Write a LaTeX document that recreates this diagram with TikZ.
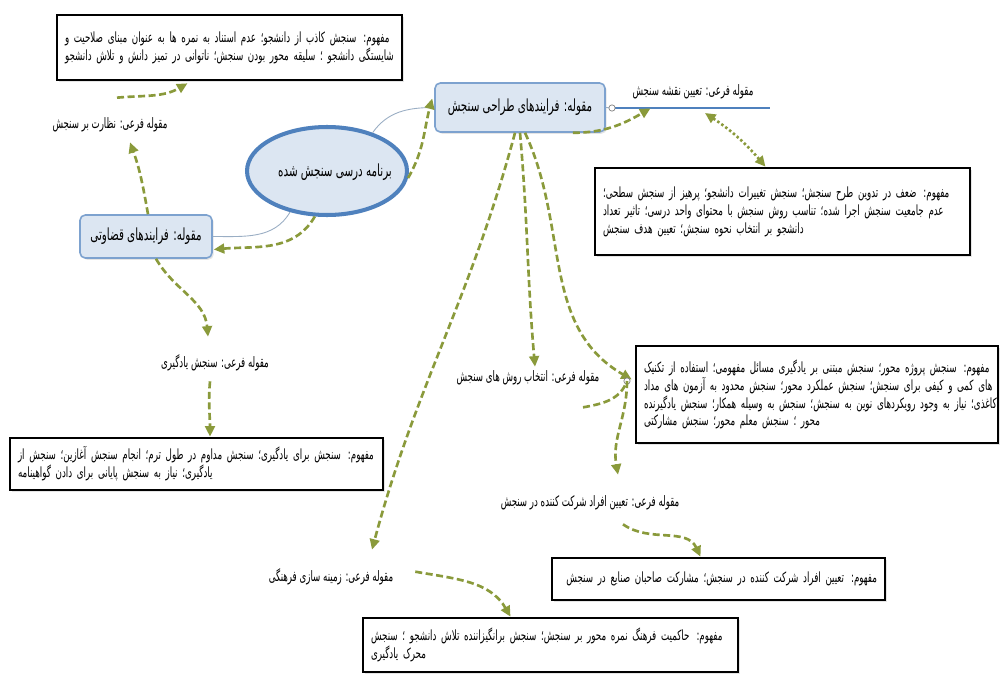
\documentclass[tikz,border=0pt]{standalone}
\usepackage{fontspec}
\newfontfamily\fabody[Script=Arabic,FakeStretch=0.62]{DejaVu Sans}
\newfontfamily\fasub[Script=Arabic,FakeStretch=0.6]{DejaVu Sans}
\newfontfamily\facat[Script=Arabic,FakeStretch=0.62]{DejaVu Sans}
\TeXXeTstate=1
\usetikzlibrary{arrows.meta,calc,shapes.geometric,shadows}
\definecolor{flowgreen}{HTML}{8A9A3B}
\definecolor{coreline}{HTML}{4F81BD}
\definecolor{catfill}{HTML}{DCE6F2}
\definecolor{catline}{HTML}{7DA2CF}
\definecolor{tiegrey}{HTML}{9AAEC4}
\newcommand\bodyfont{\fabody\fontsize{8}{10.2}\selectfont}
\newcommand\subfont{\fasub\fontsize{8.2}{9}\selectfont}
\newcommand\catfont{\facat\fontsize{9.5}{10}\selectfont}
\newcommand\jline[1]{\makebox[\linewidth][s]{\beginR#1\endR}}
\newcommand\lline[1]{\beginR#1\endR\hfill}
\newcommand\rl[1]{\beginR#1\endR}
\begin{document}
\begin{tikzpicture}[x=0.02cm,y=0.02cm,
  concept/.style={draw,line width=1.5pt,fill=white,inner xsep=0.16cm,inner ysep=0pt,align=left,font=\bodyfont,
    drop shadow={shadow xshift=1.2pt,shadow yshift=-1.2pt,opacity=0.2}},
  subcat/.style={font=\subfont,inner sep=1pt},
  maincat/.style={draw=catline,line width=0.9pt,fill=catfill,rounded corners=3pt,font=\catfont,
    drop shadow={shadow xshift=1pt,shadow yshift=-1pt,opacity=0.2}},
  flow/.style={draw=flowgreen,line width=1.5pt,dash pattern=on 4pt off 2pt,-{Triangle[length=6pt,width=5.5pt]}},
  tie/.style={draw=tiegrey,line width=0.5pt},
  underline/.style={draw=coreline,line width=1.2pt},
  knot/.style={draw=gray,fill=white,line width=0.4pt}]
\fill[white] (0,0) rectangle (1000,-686);
\useasboundingbox (0,0) rectangle (1000,-686);

\node[concept,text width=6.58cm,minimum height=1.3cm] (c-nazarat) at (229.5,-47.5)
  {\jline{مفهوم: سنجش کاذب از دانشجو؛ عدم استناد به نمره ها به عنوان مبنای صلاحیت و}\\
   \jline{شایستگی دانشجو ؛ سلیقه محور بودن سنجش؛ ناتوانی در تمیز دانش و تلاش دانشجو}};
\node[subcat] (s-nazarat) at (110,-125) {\rl{مقوله فرعی: نظارت بر سنجش}};
\node[ellipse,draw=coreline,line width=2.3pt,fill=catfill,minimum width=3.2cm,minimum height=1.76cm] (core) at (327,-171) {};
\node[font=\catfont] (core-text) at (335,-172) {\rl{برنامه درسی سنجش شده}};
\node[maincat,minimum width=2.64cm,minimum height=0.86cm] (m-qazavati) at (146,-236.5) {\rl{مقوله: فرایندهای قضاوتی}};
\node[maincat,minimum width=3.4cm,minimum height=0.98cm] (m-tarahi) at (520,-107.5) {\rl{مقوله: فرایندهای طراحی سنجش}};
\node[subcat] (s-naqshe) at (693,-92) {\rl{مقوله فرعی: تعیین نقشه سنجش}};
\coordinate (naqshe-dot) at (612,-108);
\coordinate (naqshe-end) at (770,-108);
\node[concept,text width=7.18cm,minimum height=1.74cm] (c-naqshe) at (782.5,-211.5)
  {\jline{مفهوم: ضعف در تدوین طرح سنجش؛ سنجش تغییرات دانشجو؛ پرهیز از سنجش سطحی؛}\\
   \jline{عدم جامعیت سنجش اجرا شده؛ تناسب روش سنجش با محتوای واحد درسی؛ تاثیر تعداد}\\
   \lline{دانشجو بر انتخاب نحوه سنجش؛ تعیین هدف سنجش}};
\node[subcat] (s-ravesh) at (528,-378) {\rl{مقوله فرعی: انتخاب روش های سنجش}};
\coordinate (ravesh-dot) at (627,-381);
\node[concept,text width=6.92cm,minimum height=1.94cm] (c-ravesh) at (817,-394.5)
  {\jline{مفهوم: سنجش پروژه محور؛ سنجش مبتنی بر یادگیری مسائل مفهومی؛ استفاده از تکنیک}\\
   \jline{های کمی و کیفی برای سنجش؛ سنجش عملکرد محور؛ سنجش محدود به آزمون های مداد}\\
   \jline{کاغذی؛ نیاز به وجود رویکردهای نوین به سنجش؛ سنجش به وسیله همکار؛ سنجش یادگیرنده}\\
   \lline{محور ؛ سنجش معلم محور؛ سنجش مشارکتی}};
\node[subcat] (s-yadgiri) at (215,-363) {\rl{مقوله فرعی: سنجش یادگیری}};
\node[concept,text width=7.14cm,minimum height=1.04cm] (c-yadgiri) at (196.5,-464)
  {\jline{مفهوم: سنجش برای یادگیری؛ سنجش مداوم در طول ترم؛ انجام سنجش آغازین؛ سنجش از}\\
   \lline{یادگیری؛ نیاز به سنجش پایانی برای دادن گواهینامه}};
\node[subcat] (s-afrad) at (590,-503) {\rl{مقوله فرعی: تعیین افراد شرکت کننده در سنجش}};
\node[concept,text width=6.34cm,minimum height=0.84cm] (c-afrad) at (718.5,-579)
  {\hfill\rl{مفهوم: تعیین افراد شرکت کننده در سنجش؛ مشارکت صاحبان صنایع در سنجش}};
\node[subcat] (s-zamine) at (331,-577) {\rl{مقوله فرعی: زمینه سازی فرهنگی}};
\node[concept,text width=7.18cm,minimum height=1.08cm] (c-zamine) at (550.5,-645)
  {\jline{مفهوم: حاکمیت فرهنگ نمره محور بر سنجش؛ سنجش برانگیزاننده تلاش دانشجو ؛ سنجش}\\
   \lline{محرک یادگیری}};

\draw[tie] (core.40) to[out=55,in=180] (m-tarahi.west);
\draw[tie] (core.228) to[out=-120,in=0] (m-qazavati.east);
\draw[tie] (m-tarahi.east) -- (naqshe-dot);
\draw[underline] (naqshe-dot) -- (naqshe-end);
\draw[knot] (naqshe-dot) circle[radius=1.8pt];

\draw[flow] (core.-5) to[out=60,in=-105] ($(m-tarahi.west)+(-2,9)$);
\draw[flow] (core.255) to[out=-120,in=5] ($(m-qazavati.east)+(1,-13)$);
\draw[flow] ($(m-qazavati.north)+(2,0)$) to[out=100,in=-70] ($(s-nazarat.south)+(20,-8)$);
\draw[flow] ($(s-nazarat.north)+(7,18)$) to[out=5,in=-150] ($(c-nazarat.south)+(-42,-2)$);
\draw[flow] ($(m-qazavati.south)+(10,0)$) to[out=-60,in=95] ($(s-yadgiri.north)+(-7,16)$);
\draw[flow] ($(s-yadgiri.south)+(-5,-8)$) to[out=-95,in=90] ($(c-yadgiri.north)+(13.5,0)$);
\draw[flow] ($(m-tarahi.south east)+(-33,0)$) to[out=0,in=-150] ($(s-naqshe.south west)+(20,-7)$);
\draw[flowgreen,line width=1.5pt,dash pattern=on 1.4pt off 1.4pt,{Triangle[length=6pt,width=5.5pt]}-{Triangle[length=6pt,width=5.5pt]}]
  ($(naqshe-end)+(-65,-5)$) to[bend left=8] ($(c-naqshe.north)+(-17,0)$);
\draw[flow] ($(m-tarahi.south)+(-5,0)$) to[out=-105,in=75] ($(s-zamine.north)+(41,17)$);
\draw[flow] (m-tarahi.south) to[out=-85,in=95] ($(s-ravesh.north)+(7,2)$);
\draw[flow] ($(m-tarahi.south)+(5,0)$) to[out=-65,in=150] ($(c-ravesh.west)+(-3,15)$);
\draw[flow,-] ($(s-ravesh.south)+(55,-20)$) to[out=10,in=-110] (ravesh-dot);
\draw[knot] (ravesh-dot) circle[radius=1.8pt];
\draw[flow] (ravesh-dot) to[out=-90,in=100] ($(s-afrad.north)+(28,19)$);
\draw[flow] ($(s-afrad.south)+(33,-12)$) to[out=-35,in=115] ($(c-afrad.north)+(-18,0)$);
\draw[flow] ($(s-zamine.north east)+(20,-5)$) to[out=-10,in=120] ($(c-zamine.north)+(-40,0)$);
\end{tikzpicture}
\end{document}
